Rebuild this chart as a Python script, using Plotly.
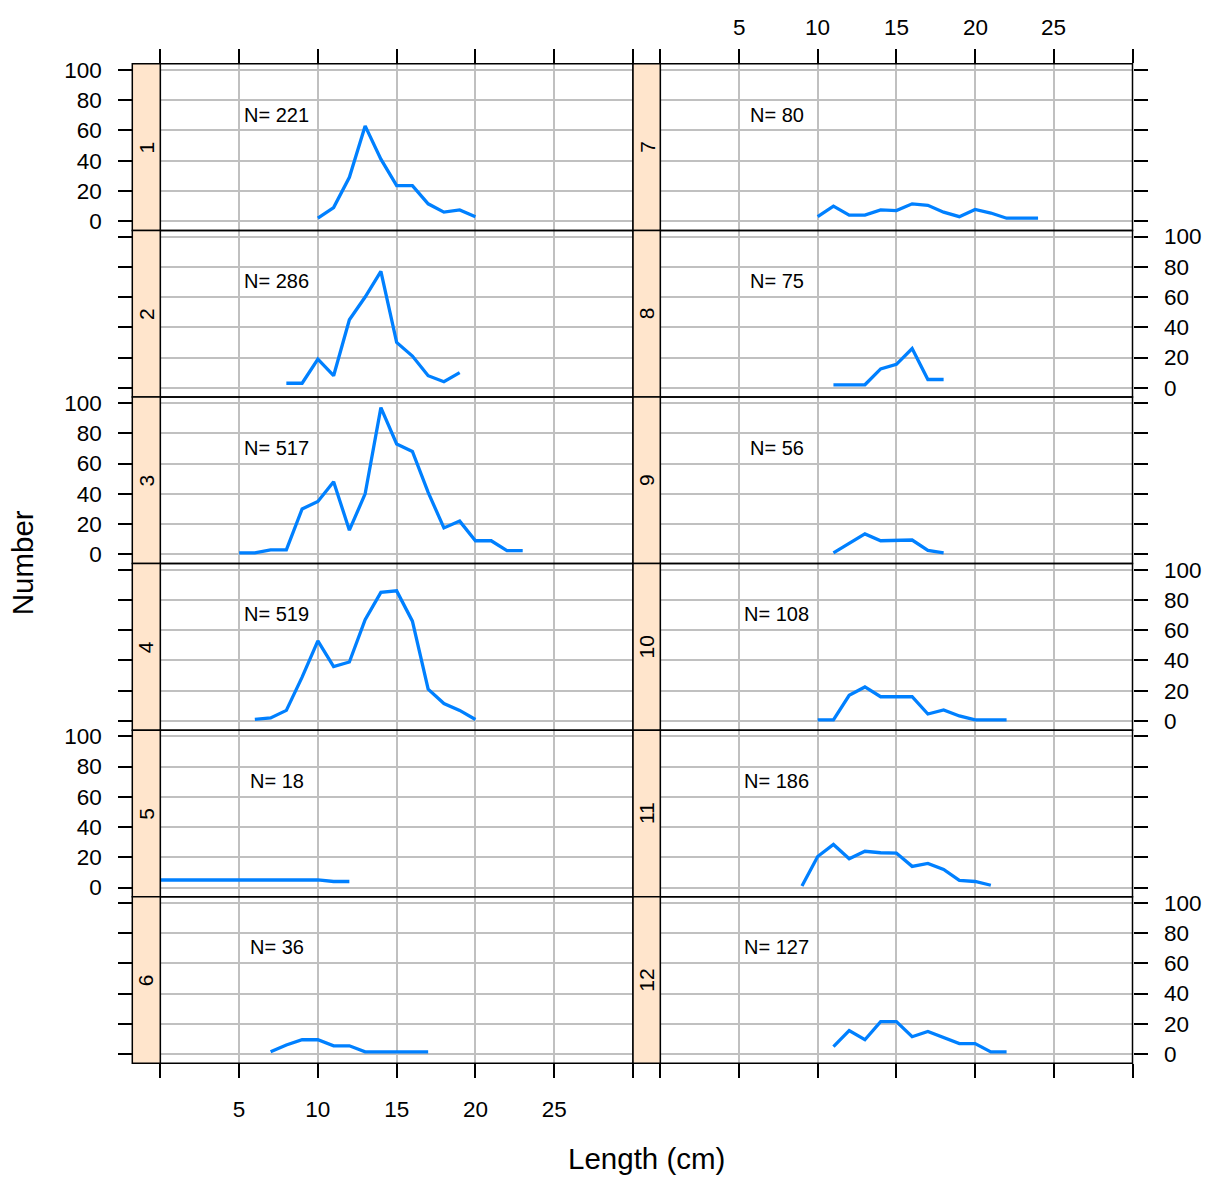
import plotly.graph_objects as go

# ---------------- data ----------------
panel_labels = ["1", "2", "3", "4", "5", "6", "7", "8", "9", "10", "11", "12"]
n_totals = [221, 286, 517, 519, 18, 36, 80, 75, 56, 108, 186, 127]

len_1 = [10, 11, 12, 13, 14, 15, 16, 17, 18, 19, 20]
num_1 = [2, 9, 29, 63, 41, 23.5, 23.5, 11.5, 6, 7.5, 3]

len_2 = [8, 9, 10, 11, 12, 13, 14, 15, 16, 17, 18, 19]
num_2 = [3, 3, 19, 8, 45, 60, 77, 30, 21, 8, 4, 10]

len_3 = [5, 6, 7, 8, 9, 10, 11, 12, 13, 14, 15, 16, 17, 18, 19, 20, 21, 22, 23]
num_3 = [1, 1, 3, 3, 30, 35, 48, 16, 40, 97, 73, 68, 41, 17.5, 22, 9, 9, 2.5, 2.5]

len_4 = [6, 7, 8, 9, 10, 11, 12, 13, 14, 15, 16, 17, 18, 19, 20]
num_4 = [1, 2, 7, 29, 53, 36, 39, 67, 85, 86, 66, 21, 11.5, 7, 1]

len_5 = [0, 10, 11, 12]
num_5 = [5, 5, 4, 4]

len_6 = [7, 8, 9, 10, 11, 12, 13, 14, 15, 16, 17]
num_6 = [1.5, 6, 9.5, 9.5, 5.5, 5.5, 1.5, 1.5, 1.5, 1.5, 1.5]

len_7 = [10, 11, 12, 13, 14, 15, 16, 17, 18, 19, 20, 21, 22, 23, 24]
num_7 = [3, 10, 4, 4, 7.5, 7, 11.5, 10.5, 6, 3, 7.8, 5.4, 2, 2, 2]

len_8 = [11, 12, 13, 14, 15, 16, 17, 18]
num_8 = [2, 2, 2, 12.5, 15.5, 26, 5.5, 5.5]

len_9 = [11, 12, 13, 14, 15, 16, 17, 18]
num_9 = [1, 7, 13.5, 9, 9, 9.5, 2.6, 1]

len_10 = [10, 11, 12, 13, 14, 15, 16, 17, 18, 19, 20, 21, 22]
num_10 = [0.7, 0.7, 17, 22.5, 16, 16, 16, 4.6, 7.3, 3.3, 0.7, 0.7, 0.7]

len_11 = [9, 10, 11, 12, 13, 14, 15, 16, 17, 18, 19, 20, 21]
num_11 = [1, 20.5, 28.5, 19, 24, 23, 22.8, 14, 16, 12, 4.8, 4, 1.5]

len_12 = [11, 12, 13, 14, 15, 16, 17, 18, 19, 20, 21, 22]
num_12 = [5, 15.5, 9.5, 21.5, 21.5, 11.5, 15, 11, 7, 7, 1.5, 1.5]

x_ticks = [0, 5, 10, 15, 20, 25, 30]
x_tick_text = ["", "5", "10", "15", "20", "25", ""]
y_ticks = [0, 20, 40, 60, 80, 100]
y_tick_text = ["0", "20", "40", "60", "80", "100"]
x_range = [0, 30]
y_range = [-6.06, 104.06]

lengths = [len_1, len_2, len_3, len_4, len_5, len_6,
           len_7, len_8, len_9, len_10, len_11, len_12]
numbers = [num_1, num_2, num_3, num_4, num_5, num_6,
           num_7, num_8, num_9, num_10, num_11, num_12]

# ---------------- layout geometry (pixels) ----------------
W, H = 1212, 1183


def fx(px):
    return px / W


def fy(py):
    return 1 - py / H


col_x = [(160.3, 633.0), (660.3, 1132.5)]
strip_x = [(132.3, 160.3), (633.0, 660.3)]
row_top0 = 58.3
row_h = 168.0

FONT = "Liberation Sans, Arial, sans-serif"
LINE_COL = "#0080ff"
GRID_COL = "#c0c0c0"
STRIP_COL = "#ffe5cc"
TICK_SIZE = 22.5

fig = go.Figure()
shapes = []
annotations = []
layout_axes = {}

for i in range(12):
    col = i // 6
    row = i % 6
    k = i + 1
    sx = "" if k == 1 else str(k)
    x0, x1 = col_x[col]
    top = row_top0 + row * row_h
    bot = top + row_h

    fig.add_trace(go.Scatter(
        x=lengths[i], y=numbers[i], mode="lines",
        line=dict(color=LINE_COL, width=3.3),
        xaxis="x" + sx, yaxis="y" + sx, showlegend=False,
        hoverinfo="skip"))

    x_has_ticks = row in (0, 5)
    x_labels = (row == 5 and col == 0)
    layout_axes["xaxis" + sx] = dict(
        domain=[fx(x0), fx(x1)], range=x_range, anchor="y" + sx,
        tickvals=x_ticks, ticktext=x_tick_text,
        showgrid=True, gridcolor=GRID_COL, gridwidth=1.6,
        zeroline=False, showline=False,
        ticks="outside" if x_has_ticks else "",
        ticklen=14, tickwidth=1.5, tickcolor="black",
        side="top" if row == 0 else "bottom",
        showticklabels=x_labels,
        ticklabelstandoff=12,
        tickfont=dict(family=FONT, size=TICK_SIZE, color="black"),
        fixedrange=True)

    # top-axis labels of the right column (lattice alternating axes)
    if row == 0 and col == 1:
        for tv, tt in zip(x_ticks, x_tick_text):
            if tt:
                annotations.append(dict(xref="x" + sx, yref="paper",
                                        x=tv, y=fy(22), text=tt,
                                        showarrow=False,
                                        font=dict(family=FONT, size=TICK_SIZE,
                                                  color="black"),
                                        xanchor="center", yanchor="middle"))

    y_labels = (col == 0 and row % 2 == 0) or (col == 1 and row % 2 == 1)
    layout_axes["yaxis" + sx] = dict(
        domain=[fy(bot), fy(top)], range=y_range,
        anchor="free",
        position=fx(strip_x[0][0]) if col == 0 else fx(col_x[1][1]),
        side="left" if col == 0 else "right",
        tickvals=y_ticks, ticktext=y_tick_text,
        showgrid=True, gridcolor=GRID_COL, gridwidth=1.6,
        zeroline=False, showline=False,
        ticks="outside", ticklen=14, tickwidth=1.5, tickcolor="black",
        showticklabels=y_labels,
        ticklabelstandoff=12,
        tickfont=dict(family=FONT, size=TICK_SIZE, color="black"),
        fixedrange=True)

    # panel border
    shapes.append(dict(type="rect", xref="paper", yref="paper",
                       x0=fx(x0), x1=fx(x1), y0=fy(bot), y1=fy(top),
                       line=dict(color="black", width=1.5), layer="above"))
    # strip
    s0, s1 = strip_x[col]
    shapes.append(dict(type="rect", xref="paper", yref="paper",
                       x0=fx(s0), x1=fx(s1), y0=fy(bot), y1=fy(top),
                       fillcolor=STRIP_COL,
                       line=dict(color="black", width=1.5), layer="above"))
    annotations.append(dict(xref="paper", yref="paper",
                            x=fx((s0 + s1) / 2), y=fy((top + bot) / 2),
                            text=panel_labels[i], textangle=-90,
                            showarrow=False,
                            font=dict(family=FONT, size=21, color="black"),
                            xanchor="center", yanchor="middle"))
    # N label
    annotations.append(dict(xref="x" + sx, yref="y" + sx,
                            x=7.4, y=70.5, text="N= " + str(n_totals[i]),
                            showarrow=False,
                            font=dict(family=FONT, size=20, color="black"),
                            xanchor="center", yanchor="middle"))

annotations.append(dict(xref="paper", yref="paper", x=fx(646), y=fy(1162),
                        text="Length (cm)", showarrow=False,
                        font=dict(family=FONT, size=29.5, color="black"),
                        xanchor="center", yanchor="middle"))
annotations.append(dict(xref="paper", yref="paper", x=fx(22), y=fy(562),
                        text="Number", showarrow=False, textangle=-90,
                        font=dict(family=FONT, size=29.5, color="black"),
                        xanchor="center", yanchor="middle"))

fig.update_layout(
    width=W, height=H, autosize=False,
    margin=dict(l=0, r=0, t=0, b=0),
    paper_bgcolor="white", plot_bgcolor="white",
    shapes=shapes, annotations=annotations,
    showlegend=False,
    **layout_axes)

fig.write_html("out.html")
